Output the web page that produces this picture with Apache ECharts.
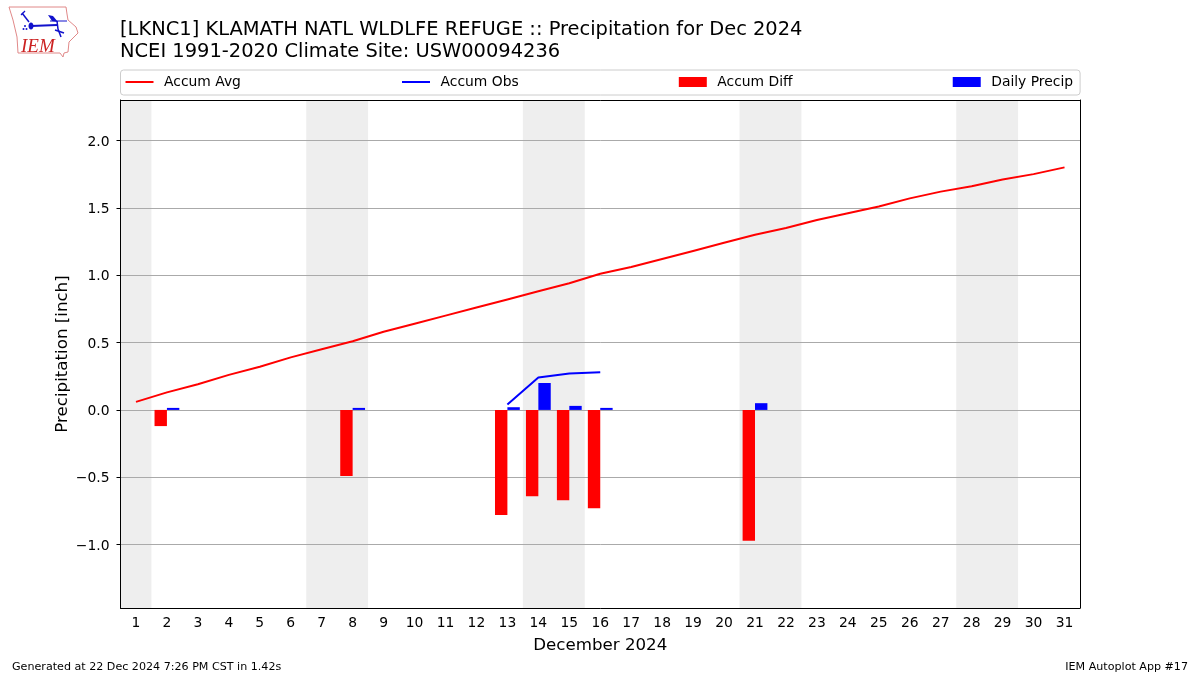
<!DOCTYPE html>
<html><head><meta charset="utf-8">
<style>html,body{margin:0;padding:0;background:#fff}#c{width:1200px;height:675px}</style>
<script src="https://cdn.jsdelivr.net/npm/echarts@6/dist/echarts.min.js"></script>
</head><body><div id="c"></div>
<script>
const days = ['1','2','3','4','5','6','7','8','9','10','11','12','13','14','15','16','17','18','19','20','21','22','23','24','25','26','27','28','29','30','31'];
const accumAvg = [0.06,0.13,0.19,0.26,0.32,0.39,0.45,0.51,0.58,0.64,0.70,0.76,0.82,0.88,0.94,1.01,1.06,1.12,1.18,1.24,1.30,1.35,1.41,1.46,1.51,1.57,1.62,1.66,1.71,1.75,1.80];
const accumObs = [null,null,null,null,null,null,null,null,null,null,null,null,0.04,0.24,0.27,0.28,null,null,null,null,null,null,null,null,null,null,null,null,null,null,null];
const accumDiff = [null,-0.12,null,null,null,null,null,-0.49,null,null,null,null,-0.78,-0.64,-0.67,-0.73,null,null,null,null,-0.97,null,null,null,null,null,null,null,null,null,null];
const dailyPrecip = [null,0.015,null,null,null,null,null,0.015,null,null,null,null,0.02,0.20,0.03,0.015,null,null,null,null,0.05,null,null,null,null,null,null,null,null,null,null];
const weekendBands = [[0.5,1.5],[6.5,8.5],[13.5,15.5],[20.5,22.5],[27.5,29.5]];
const yTicks = [-1.0,-0.5,0,0.5,1.0,1.5,2.0];

const font = 'DejaVu Sans';
const chart = echarts.init(document.getElementById('c'), null, {renderer:'canvas'});
const iowa = [[9,7],[66,7],[67,14],[68,20],[76,27],[78,33],[69,42],[68,52],[64,53],[63,57],[60,53],[18,53],[17,37],[13,20]];
const hideMarker = {color:'transparent',borderColor:'transparent',borderWidth:0};
const blueDark = '#1111cc';
chart.setOption({
  animation:false,
  textStyle:{fontFamily:font},
  title:[
    {text:'[LKNC1] KLAMATH NATL WLDLFE REFUGE :: Precipitation for Dec 2024\nNCEI 1991-2020 Climate Site: USW00094236',left:120,top:19,padding:0,
     textStyle:{fontSize:19.44,fontWeight:'normal',color:'#000',lineHeight:22,fontFamily:font}},
    {text:'Generated at 22 Dec 2024 7:26 PM CST in 1.42s',left:12,top:662,padding:0,textStyle:{fontSize:11.11,fontWeight:'normal',color:'#000',fontFamily:font}},
    {text:'IEM Autoplot App #17',right:12,top:662,padding:0,textStyle:{fontSize:11.11,fontWeight:'normal',color:'#000',fontFamily:font}}
  ],
  legend:{
    data:[{name:'Accum Avg',itemStyle:hideMarker},{name:'Accum Obs',itemStyle:hideMarker},{name:'Accum Diff',icon:'rect'},{name:'Daily Precip',icon:'rect'}],
    left:120.5,top:70,itemWidth:28,itemHeight:10,itemGap:160.1,
    padding:[5,7,6,4],borderColor:'#ccc',borderWidth:1,borderRadius:3,
    textStyle:{fontSize:13.89,color:'#000',fontFamily:font,padding:[0,0,0,5.5]}
  },
  grid:{left:120.5,right:120,top:100,bottom:67,containLabel:false},
  xAxis:[
    {type:'category',data:days,boundaryGap:true,name:'December 2024',nameLocation:'middle',nameGap:29,
     nameTextStyle:{fontSize:16.67,color:'#000',fontFamily:font},
     axisLine:{onZero:false,lineStyle:{color:'#000',width:1}},
     axisTick:{alignWithLabel:true,length:4,lineStyle:{color:'#000'}},
     axisLabel:{interval:0,fontSize:13.89,color:'#000',margin:8,fontFamily:font},
     splitLine:{show:false},z:4},
    {type:'value',min:0.5,max:31.5,position:'top',axisLine:{show:true,onZero:false,lineStyle:{color:'#000',width:1}},axisTick:{show:false},axisLabel:{show:false},splitLine:{show:false},z:4}
  ],
  yAxis:[
    {type:'value',min:-1.47,max:2.3,name:'Precipitation [inch]',nameLocation:'middle',nameGap:49,nameMoveOverlap:false,
     nameTextStyle:{fontSize:16.67,color:'#000',fontFamily:font},
     axisLine:{show:true,onZero:false,lineStyle:{color:'#000',width:1}},
     axisTick:{show:true,length:4,customValues:yTicks,lineStyle:{color:'#000'}},
     axisLabel:{color:'#000',margin:11,customValues:yTicks,
       rich:{t:{fontSize:13.89,color:'#000',fontFamily:font,padding:[3,0,0,0]}},
       formatter:v=>'{t|'+(v<0?'\u2212':'')+Math.abs(v).toFixed(1)+'}'},
     splitLine:{show:true,lineStyle:{color:'#aaaaaa',width:1}},z:1},
    {type:'value',min:-1.47,max:2.3,position:'right',axisLine:{show:true,onZero:false,lineStyle:{color:'#000',width:1}},axisTick:{show:false},axisLabel:{show:false},splitLine:{show:false},z:4}
  ],
  series:[
    {name:'Weekends',type:'line',xAxisIndex:1,data:[],z:0,silent:true,
     markArea:{silent:true,z:0,itemStyle:{color:'rgba(0,0,0,0.067)'},data:weekendBands.map(b=>[{xAxis:b[0]},{xAxis:b[1]}])}},
    {name:'Accum Diff',type:'bar',data:accumDiff,barWidth:12.4,barGap:0,itemStyle:{color:'#ff0000'},z:3},
    {name:'Daily Precip',type:'bar',data:dailyPrecip,barWidth:12.4,barGap:0,itemStyle:{color:'#0000ff'},z:3},
    {name:'Accum Avg',type:'line',data:accumAvg,showSymbol:false,symbol:'none',lineStyle:{color:'#ff0000',width:2},itemStyle:{color:'#ff0000'},z:5},
    {name:'Accum Obs',type:'line',data:accumObs,showSymbol:false,symbol:'none',connectNulls:false,lineStyle:{color:'#0000ff',width:2},itemStyle:{color:'#0000ff'},z:5}
  ],
  graphic:[
    {type:'polygon',shape:{points:iowa},style:{fill:'#fff',stroke:'#e08888',lineWidth:1}},
    {type:'polyline',shape:{points:[[31,26],[57,25]]},style:{stroke:blueDark,lineWidth:2,fill:null}},
    {type:'ellipse',shape:{cx:31,cy:26,rx:2.5,ry:3.5},style:{fill:blueDark}},
    {type:'polyline',shape:{points:[[29,22],[22,13]]},style:{stroke:blueDark,lineWidth:1.5,fill:null}},
    {type:'polyline',shape:{points:[[21,15],[25,11]]},style:{stroke:blueDark,lineWidth:1.2,fill:null}},
    {type:'circle',shape:{cx:25,cy:26,r:1},style:{fill:blueDark}},
    {type:'circle',shape:{cx:23.5,cy:29,r:1},style:{fill:blueDark}},
    {type:'circle',shape:{cx:26.5,cy:29,r:1},style:{fill:blueDark}},
    {type:'polygon',shape:{points:[[48,15],[53,16],[58,22],[52,21]]},style:{fill:blueDark}},
    {type:'polyline',shape:{points:[[50,21],[67,21]]},style:{stroke:blueDark,lineWidth:1,fill:null}},
    {type:'polyline',shape:{points:[[57,21],[58,29],[61,37]]},style:{stroke:blueDark,lineWidth:1.5,fill:null}},
    {type:'polyline',shape:{points:[[55,30],[64,33]]},style:{stroke:blueDark,lineWidth:1.5,fill:null}},
    {type:'text',style:{text:'IEM',x:21,y:37,fill:'#cc2222',font:'italic 19px "Liberation Serif"'}}
  ]
});
</script></body></html>
